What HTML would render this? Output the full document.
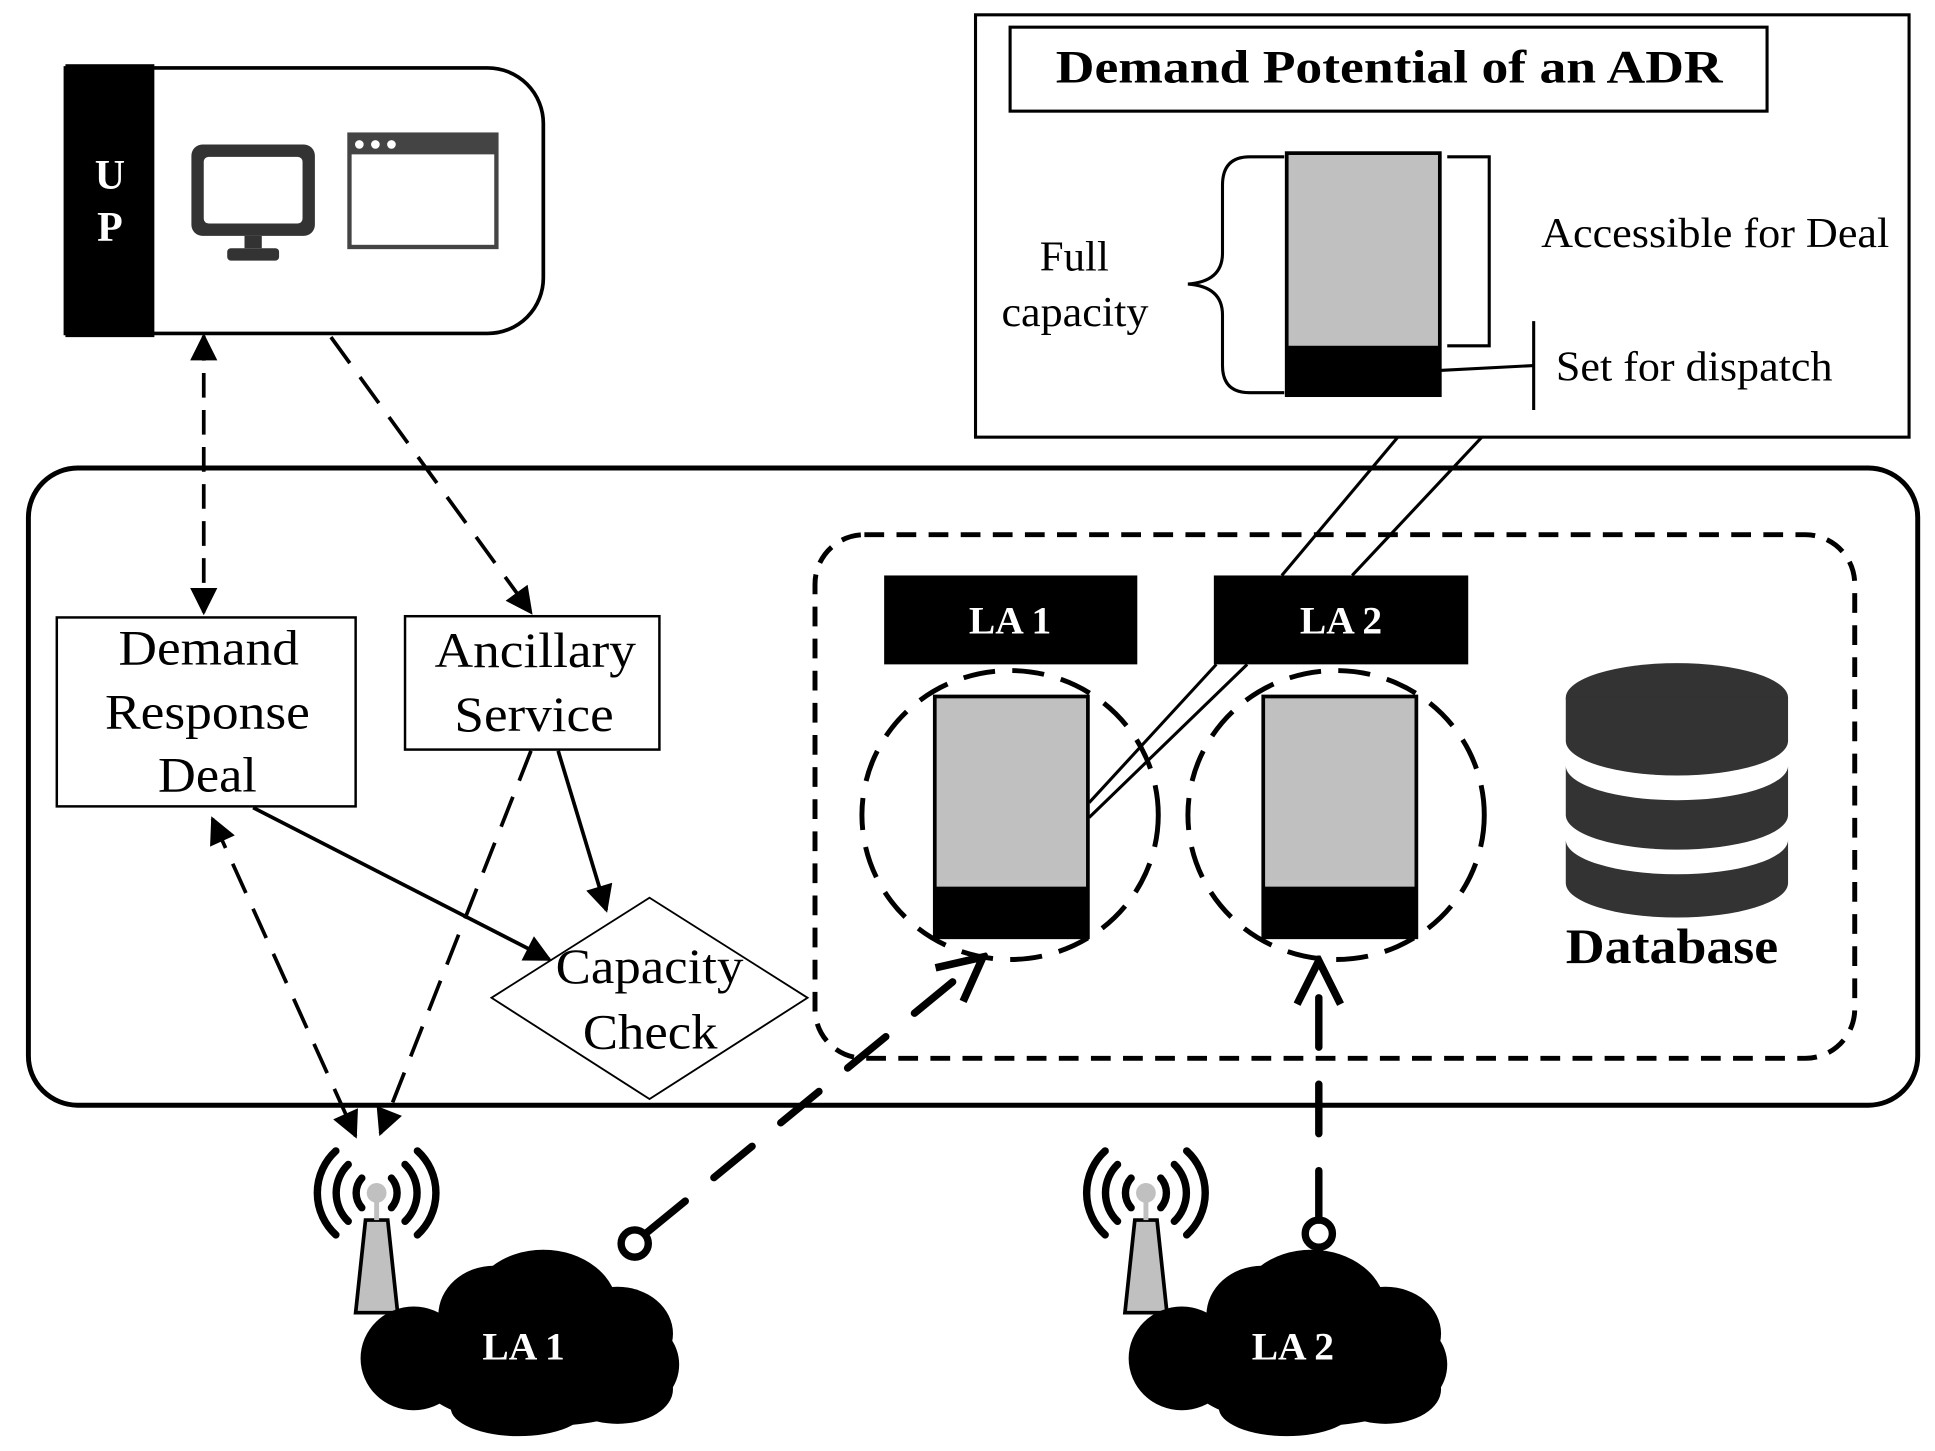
<!DOCTYPE html>
<html><head><meta charset="utf-8"><style>html,body{margin:0;padding:0;background:#fff}svg{display:block}</style></head>
<body>
<svg width="1935" height="1451" viewBox="0 0 1567 1175" preserveAspectRatio="none" xmlns="http://www.w3.org/2000/svg" font-family="Liberation Serif, serif">
<defs>
<marker id="a" viewBox="0 0 10 10" refX="9" refY="5" markerWidth="24" markerHeight="22" orient="auto-start-reverse" markerUnits="userSpaceOnUse"><path d="M0,0 L10,5 L0,10 Z" fill="#000"/></marker>
<marker id="chev" viewBox="0 0 10 10" refX="9" refY="5" markerWidth="44" markerHeight="44" orient="auto" markerUnits="userSpaceOnUse"><path d="M1,1 L9,5 L1,9" fill="none" stroke="#000" stroke-width="1.4"/></marker>
</defs>
<rect width="1567" height="1175" fill="#fff"/>

<path d="M53,55 H395 A45,45 0 0 1 440,100 V225 A45,45 0 0 1 395,270 H53 Z" fill="#fff" stroke="#000" stroke-width="3"/>
<rect x="53" y="52" width="72" height="221" fill="#000"/>
<text x="89" y="153" fill="#fff" font-size="34" font-weight="bold" text-anchor="middle">U</text>
<text x="89" y="195" fill="#fff" font-size="34" font-weight="bold" text-anchor="middle">P</text>
<rect x="155" y="117" width="100" height="74" rx="9" fill="#333"/>
<rect x="165" y="127" width="80" height="54" rx="4" fill="#fff"/>
<rect x="198" y="191" width="14" height="10" fill="#333"/>
<rect x="184" y="201" width="42" height="10" rx="3" fill="#333"/>
<rect x="283" y="109" width="119" height="91" fill="#fff" stroke="#444" stroke-width="3.5"/>
<rect x="283" y="109" width="119" height="16" fill="#444"/>
<circle cx="291" cy="117" r="3.5" fill="#fff"/><circle cx="304" cy="117" r="3.5" fill="#fff"/><circle cx="317" cy="117" r="3.5" fill="#fff"/>

<rect x="790" y="12" width="756" height="342" fill="#fff" stroke="#000" stroke-width="2.5"/>
<rect x="818" y="22" width="613" height="68" fill="#fff" stroke="#000" stroke-width="2.5"/>
<text x="1125" y="67" font-size="38" font-weight="bold" text-anchor="middle" textLength="540" lengthAdjust="spacingAndGlyphs">Demand Potential of an ADR</text>
<rect x="1042" y="124" width="124" height="196" fill="#c0c0c0" stroke="#000" stroke-width="3"/>
<rect x="1042" y="280" width="124" height="40" fill="#000"/>
<path d="M1040,127 H1012 Q990,127 990,150 V205 Q990,228 962,230 Q990,232 990,255 V296 Q990,318 1012,318 H1040" fill="none" stroke="#000" stroke-width="2.5"/>
<path d="M1172,127 H1206 V280 H1172" fill="none" stroke="#000" stroke-width="2.5"/>
<line x1="1166" y1="300" x2="1242" y2="296" stroke="#000" stroke-width="2.5"/>
<line x1="1242" y1="260" x2="1242" y2="332" stroke="#000" stroke-width="2.5"/>
<text x="842" y="219" font-size="34" textLength="56" lengthAdjust="spacingAndGlyphs">Full</text>
<text x="811" y="264" font-size="34" textLength="119" lengthAdjust="spacingAndGlyphs">capacity</text>
<text x="1248" y="200" font-size="34" textLength="282" lengthAdjust="spacingAndGlyphs">Accessible for Deal</text>
<text x="1260" y="308" font-size="34" textLength="224" lengthAdjust="spacingAndGlyphs">Set for dispatch</text>

<rect x="23" y="379" width="1530" height="516" rx="40" fill="none" stroke="#000" stroke-width="4"/>
<rect x="660" y="433" width="842" height="424" rx="40" fill="none" stroke="#000" stroke-width="4" stroke-dasharray="16,10"/>

<g stroke="#000" stroke-width="2.5">
<line x1="1132" y1="354" x2="1038" y2="466"/>
<line x1="1200" y1="354" x2="1095" y2="466"/>
<line x1="985" y1="538" x2="882" y2="650"/>
<line x1="1010" y1="538" x2="882" y2="662"/>
</g>

<rect x="716" y="466" width="205" height="72" fill="#000"/>
<text x="818" y="513" fill="#fff" font-size="32" font-weight="bold" text-anchor="middle">LA 1</text>
<rect x="983" y="466" width="206" height="72" fill="#000"/>
<text x="1086" y="513" fill="#fff" font-size="32" font-weight="bold" text-anchor="middle">LA 2</text>

<ellipse cx="818" cy="660" rx="120" ry="117" fill="none" stroke="#000" stroke-width="4" stroke-dasharray="26,14"/>
<ellipse cx="1082" cy="660" rx="120" ry="117" fill="none" stroke="#000" stroke-width="4" stroke-dasharray="26,14"/>
<rect x="757" y="564" width="124" height="195" fill="#c0c0c0" stroke="#000" stroke-width="3"/>
<rect x="757" y="718" width="124" height="42" fill="#000"/>
<rect x="1023" y="564" width="124" height="195" fill="#c0c0c0" stroke="#000" stroke-width="3"/>
<rect x="1023" y="718" width="124" height="42" fill="#000"/>

<g fill="#333">
<ellipse cx="1358" cy="565" rx="90" ry="28"/>
<path d="M1268,565 V600 A90,28 0 0 0 1448,600 V565 Z"/>
<path d="M1268,620 V660 A90,28 0 0 0 1448,660 V620 A90,28 0 0 1 1268,620 Z"/>
<path d="M1268,680 V715 A90,28 0 0 0 1448,715 V680 A90,28 0 0 1 1268,680 Z"/>
</g>
<text x="1268" y="780" font-size="40" font-weight="bold" textLength="172" lengthAdjust="spacingAndGlyphs">Database</text>

<rect x="46" y="500" width="242" height="153" fill="#fff" stroke="#000" stroke-width="2"/>
<text x="96" y="538" font-size="40" textLength="146" lengthAdjust="spacingAndGlyphs">Demand</text>
<text x="85" y="590" font-size="40" textLength="166" lengthAdjust="spacingAndGlyphs">Response</text>
<text x="128" y="641" font-size="40" textLength="80" lengthAdjust="spacingAndGlyphs">Deal</text>
<rect x="328" y="499" width="206" height="108" fill="#fff" stroke="#000" stroke-width="2"/>
<text x="352" y="540" font-size="40" textLength="163" lengthAdjust="spacingAndGlyphs">Ancillary</text>
<text x="368" y="592" font-size="40" textLength="129" lengthAdjust="spacingAndGlyphs">Service</text>
<polygon points="526,727 654,808 526,890 398,808" fill="#fff" stroke="#000" stroke-width="1.5"/>
<text x="450" y="796" font-size="40" textLength="152" lengthAdjust="spacingAndGlyphs">Capacity</text>
<text x="472" y="849" font-size="40" textLength="109" lengthAdjust="spacingAndGlyphs">Check</text>

<g stroke="#000" stroke-width="3" fill="none">
<line x1="165" y1="272" x2="165" y2="496" stroke-dasharray="20,10" marker-start="url(#a)" marker-end="url(#a)"/>
<line x1="268" y1="273" x2="430" y2="496" stroke-dasharray="26,14" marker-end="url(#a)"/>
<line x1="205" y1="654" x2="445" y2="777" marker-end="url(#a)"/>
<line x1="452" y1="608" x2="491" y2="737" marker-end="url(#a)"/>
<line x1="430" y1="608" x2="308" y2="918" stroke-dasharray="26,14" marker-end="url(#a)"/>
<line x1="172" y1="663" x2="288" y2="920" stroke-dasharray="26,14" marker-start="url(#a)" marker-end="url(#a)"/>
</g>
<g stroke="#000" stroke-width="6" fill="none" stroke-linecap="round">
<line x1="524" y1="998" x2="796" y2="775" stroke-dasharray="40,30" marker-end="url(#chev)"/>
<line x1="1068" y1="988" x2="1068" y2="778" stroke-dasharray="40,30" marker-end="url(#chev)"/>
<circle cx="514" cy="1007" r="11"/>
<circle cx="1068" cy="999" r="11"/>
</g>

<g id="ant">
<polygon points="288,1063 322,1063 314,988 296,988" fill="#c0c0c0" stroke="#000" stroke-width="3"/>
<line x1="305" y1="988" x2="305" y2="970" stroke="#c0c0c0" stroke-width="4"/>
<circle cx="305" cy="966" r="8" fill="#c0c0c0"/>
<g fill="none" stroke="#000" stroke-width="6" stroke-linecap="round">
<path d="M293,954 A18,18 0 0 0 293,978"/><path d="M317,954 A18,18 0 0 1 317,978"/>
<path d="M282,943 A32,32 0 0 0 282,989"/><path d="M328,943 A32,32 0 0 1 328,989"/>
<path d="M272,932 A46,46 0 0 0 272,1000"/><path d="M338,932 A46,46 0 0 1 338,1000"/>
</g>
</g>
<use href="#ant" transform="translate(623,0)"/>

<g id="cloud" fill="#000">
<ellipse cx="335" cy="1100" rx="43" ry="42"/>
<ellipse cx="400" cy="1065" rx="45" ry="40"/>
<ellipse cx="440" cy="1060" rx="60" ry="48"/>
<ellipse cx="500" cy="1080" rx="45" ry="38"/>
<ellipse cx="520" cy="1105" rx="30" ry="33"/>
<ellipse cx="440" cy="1115" rx="100" ry="40"/>
<ellipse cx="500" cy="1125" rx="45" ry="28"/>
<ellipse cx="420" cy="1140" rx="55" ry="23"/>
</g>
<text x="424" y="1101" fill="#fff" font-size="32" font-weight="bold" text-anchor="middle">LA 1</text>
<use href="#cloud" transform="translate(622,0)"/>
<text x="1047" y="1101" fill="#fff" font-size="32" font-weight="bold" text-anchor="middle">LA 2</text>
</svg>
</body></html>
